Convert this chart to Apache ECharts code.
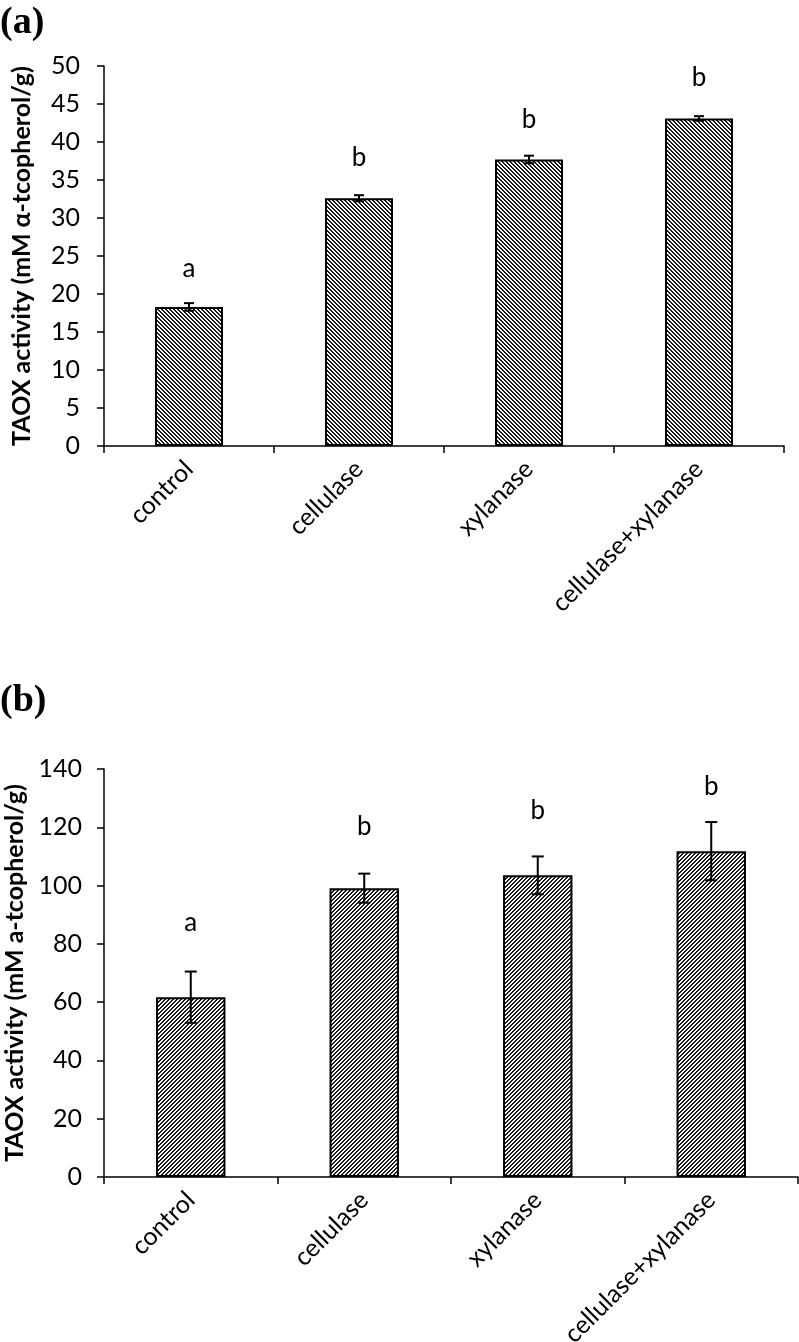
<!DOCTYPE html>
<html>
<head>
<meta charset="utf-8">
<script src="https://cdn.jsdelivr.net/npm/echarts@6/dist/echarts.min.js"></script>
<style>
html,body{margin:0;padding:0;background:#fff;}
#chart{width:799px;height:1342px;}
</style>
</head>
<body>
<div id="chart"></div>
<script>
// ---- data ----
const categories = ['control', 'cellulase', 'xylanase', 'cellulase+xylanase'];

const valuesA = [18.3, 32.6, 37.7, 43.1];
const errorsA = [0.5, 0.4, 0.5, 0.3];
const lettersA = ['a', 'b', 'b', 'b'];
const letterPosA = [23.4, 38.0, 43.0, 48.5];
const yTicksA = { min: 0, max: 50, interval: 5 };

const valuesB = [61.7, 99.1, 103.5, 111.8];
const errorsB = [8.8, 5.0, 6.5, 10.0];
const lettersB = ['a', 'b', 'b', 'b'];
const letterPosB = [87.4, 120.3, 125.8, 134];
const yTicksB = { min: 0, max: 140, interval: 20 };

const yNameA = 'TAOX activity (mM \u03b1-tcopherol/g)';
const yNameB = 'TAOX activity (mM a-tcopherol/g)';

// ---- hatch patterns ----
function hatch(dir, period) {
  const c = document.createElement('canvas');
  c.width = period; c.height = period;
  const ctx = c.getContext('2d');
  ctx.fillStyle = '#fff';
  ctx.fillRect(0, 0, period, period);
  ctx.fillStyle = '#1a1a1a';
  for (let y = 0; y < period; y++) {
    const x = dir === 'back' ? y : (period - 1 - y);
    ctx.fillRect(x % period, y, 1, 1);
    ctx.fillRect((x + 1) % period, y, 1, 1);
  }
  return { image: c, repeat: 'repeat' };
}

const FONT = 'Lato';

function errSeries(values, errors, xi, yi, capHalf) {
  return {
    type: 'custom',
    xAxisIndex: xi, yAxisIndex: yi,
    data: values.map((v, i) => [i, v - errors[i], v + errors[i]]),
    renderItem: function (params, api) {
      const lo = api.coord([api.value(0), api.value(1)]);
      const hi = api.coord([api.value(0), api.value(2)]);
      const st = { stroke: '#000', lineWidth: 2 };
      return {
        type: 'group',
        children: [
          { type: 'line', shape: { x1: hi[0], y1: hi[1], x2: lo[0], y2: lo[1] }, style: st },
          { type: 'line', shape: { x1: hi[0] - capHalf, y1: hi[1], x2: hi[0] + capHalf, y2: hi[1] }, style: st },
          { type: 'line', shape: { x1: lo[0] - capHalf, y1: lo[1], x2: lo[0] + capHalf, y2: lo[1] }, style: st }
        ]
      };
    },
    z: 5
  };
}

function letterSeries(letters, pos, xi, yi) {
  return {
    type: 'custom',
    xAxisIndex: xi, yAxisIndex: yi,
    data: pos.map((p, i) => [i, p]),
    renderItem: function (params, api) {
      const pt = api.coord([api.value(0), api.value(1)]);
      return {
        type: 'text',
        style: {
          text: letters[params.dataIndex], x: pt[0], y: pt[1],
          align: 'center', verticalAlign: 'middle',
          fill: '#000', font: '26px ' + FONT
        }
      };
    },
    z: 6
  };
}

function xAxisCfg(gi) {
  return {
    type: 'category', gridIndex: gi, data: categories,
    boundaryGap: true,
    axisLine: { show: true, lineStyle: { color: '#000', width: 1.5 } },
    axisTick: { show: true, alignWithLabel: false, length: 7, lineStyle: { color: '#000', width: 1.5 } },
    axisLabel: { rotate: 45, color: '#000', fontFamily: FONT, fontSize: 25, margin: 19, interval: 0 },
    splitLine: { show: false }
  };
}

function yAxisCfg(gi, t, name, margin) {
  return {
    type: 'value', gridIndex: gi, min: t.min, max: t.max, interval: t.interval,
    name: name, nameLocation: 'middle', nameGap: 70,
    nameTextStyle: { color: '#000', fontFamily: FONT, fontWeight: 'bold', fontSize: 25 },
    axisLine: { show: true, lineStyle: { color: '#000', width: 1.5 } },
    axisTick: { show: true, length: 7, lineStyle: { color: '#000', width: 1.5 } },
    axisLabel: { color: '#000', fontFamily: FONT, fontSize: 25, margin: margin },
    splitLine: { show: false }
  };
}

const chart = echarts.init(document.getElementById('chart'), null, { renderer: 'canvas' });
chart.setOption({
  backgroundColor: '#fff',
  animation: false,
  graphic: [
    { type: 'text', left: 0, top: 4, style: { text: '(a)', font: 'bold 38px "Liberation Serif"', fill: '#000' } },
    { type: 'text', left: 0, top: 682, style: { text: '(b)', font: 'bold 38px "Liberation Serif"', fill: '#000' } }
  ],
  grid: [
    { left: 104, top: 66, width: 680, height: 380, containLabel: false, outerBoundsMode: 'none' },
    { left: 104, top: 769, width: 694, height: 408, containLabel: false, outerBoundsMode: 'none' }
  ],
  xAxis: [xAxisCfg(0), xAxisCfg(1)],
  yAxis: [yAxisCfg(0, yTicksA, yNameA, 24), yAxisCfg(1, yTicksB, yNameB, 22)],
  series: [
    {
      type: 'bar', xAxisIndex: 0, yAxisIndex: 0, data: valuesA, barWidth: '40%',
      itemStyle: { color: hatch('back', 4), borderColor: '#000', borderWidth: 2 }
    },
    errSeries(valuesA, errorsA, 0, 0, 5),
    letterSeries(lettersA, letterPosA, 0, 0),
    {
      type: 'bar', xAxisIndex: 1, yAxisIndex: 1, data: valuesB, barWidth: '40%',
      itemStyle: { color: hatch('fwd', 4), borderColor: '#000', borderWidth: 2 }
    },
    errSeries(valuesB, errorsB, 1, 1, 6),
    letterSeries(lettersB, letterPosB, 1, 1)
  ]
});
</script>
</body>
</html>
